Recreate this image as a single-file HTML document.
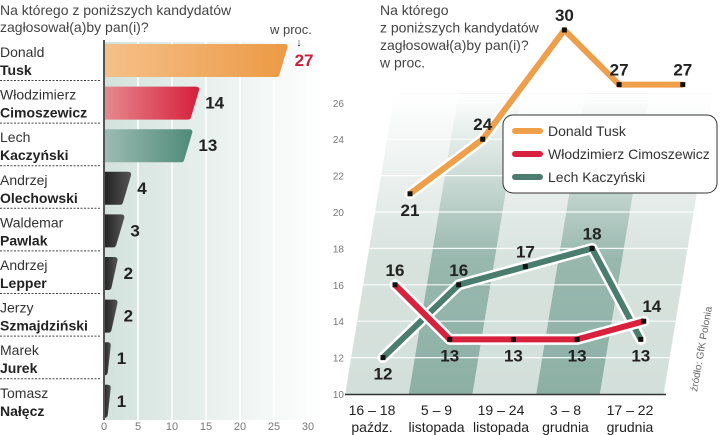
<!DOCTYPE html>
<html><head><meta charset="utf-8"><style>
body{margin:0;background:#fff;}
svg{display:block;font-family:"Liberation Sans",sans-serif;}
</style></head><body>
<svg id="c" width="720" height="435" viewBox="0 0 720 435">
<defs>
<linearGradient id="bgL" x1="0" x2="1"><stop offset="0" stop-color="#d3e2dd"/><stop offset="1" stop-color="#fff"/></linearGradient>
<linearGradient id="gO" x1="0" x2="1"><stop offset="0" stop-color="#f5c089"/><stop offset="1" stop-color="#ec9a45"/></linearGradient>
<linearGradient id="gR" x1="0" x2="1"><stop offset="0" stop-color="#e58a8f"/><stop offset="1" stop-color="#d61f3b"/></linearGradient>
<linearGradient id="gG" x1="0" x2="1"><stop offset="0" stop-color="#9dbcb4"/><stop offset="1" stop-color="#4f8a78"/></linearGradient>
<linearGradient id="gK" x1="0" x2="1"><stop offset="0" stop-color="#222"/><stop offset="1" stop-color="#555"/></linearGradient>
<linearGradient id="fadeV" x1="0" y1="0" x2="0" y2="1"><stop offset="0" stop-color="#fff" stop-opacity="1"/><stop offset="0.55" stop-color="#fff" stop-opacity="0.1"/><stop offset="1" stop-color="#fff" stop-opacity="0"/></linearGradient>
</defs>
<g id="left"></g>
<g id="right"></g>
</svg>
<script>
const NS='http://www.w3.org/2000/svg';
function el(t,a,p){const e=document.createElementNS(NS,t);for(const k in a)e.setAttribute(k,a[k]);p.appendChild(e);return e;}
function tx(s,a,p){const e=el('text',a,p);e.textContent=s;return e;}

// ---- bar chart data
const firstNames=['Donald','Włodzimierz','Lech','Andrzej','Waldemar','Andrzej','Jerzy','Marek','Tomasz'];
const lastNames=['Tusk','Cimoszewicz','Kaczyński','Olechowski','Pawlak','Lepper','Szmajdziński','Jurek','Nałęcz'];
const barValues=[27,14,13,4,3,2,2,1,1];
const barTicks=[0,5,10,15,20,25,30];

// ---- line chart data
const periods1=['16 – 18','5 – 9','19 – 24','3 – 8','17 – 22'];
const periods2=['paźdz.','listopada','listopada','grudnia','grudnia'];
const tusk=[21,24,30,27,27];
const cimo=[16,13,13,13,14];
const kacz=[12,16,17,18,13];
const yTicks=[10,12,14,16,18,20,22,24,26];

const L=document.getElementById('left');
const bx=v=>104+v*6.8;
const rowY=i=>42+i*42.6;
tx('Na którego z poniższych kandydatów',{x:0,y:15,'font-size':14,fill:'#444'},L);
tx('zagłosował(a)by pan(i)?',{x:0,y:32,'font-size':14,fill:'#444'},L);
el('rect',{x:104,y:42,width:218,height:378,fill:'url(#bgL)'},L);
barTicks.forEach(t=>{
  if(t>0){const g=el('line',{x1:bx(t),x2:bx(t),y1:42,y2:420,stroke:'#fff','stroke-width':1.5},L);
  }
  const lb=tx(String(t),{x:bx(t),y:430,'font-size':11,fill:'#777','text-anchor':'middle'},L);
  
});
const fills=['url(#gO)','url(#gR)','url(#gG)'];
barValues.forEach((v,i)=>{
  const y0=rowY(i)+2,y1=rowY(i)+35,x0=104,xe=bx(v),xb=xe-Math.min(8,v*3);
  const p=el('path',{d:`M${x0} ${y0} L${xe-3} ${y0} Q${xe} ${y0} ${xe} ${y0+3} L${xb} ${y1-3} Q${xb-0.5} ${y1} ${xb-3} ${y1} L${x0} ${y1} Z`,fill:fills[i]||'url(#gK)'},L);
  
  
  const vl=tx(String(v),{x:xe+(i==0?7:6),y:rowY(i)+24,'font-size':17,'font-weight':'bold',fill:i==0?'#c8203e':'#222'},L);
  
  const n1=tx(firstNames[i],{x:0,y:rowY(i)+15,'font-size':14,fill:'#333'},L);
  
  const n2=tx(lastNames[i],{x:0,y:rowY(i)+33,'font-size':14,'font-weight':'bold',fill:'#222'},L);
  
  if(i<8){const s=el('line',{x1:0,x2:100,y1:rowY(i)+38.5,y2:rowY(i)+38.5,stroke:'#444','stroke-dasharray':'2 1.5','stroke-width':1},L);
  }
});
el('line',{x1:104,x2:104,y1:40,y2:420,stroke:'#555','stroke-width':2},L);
tx('w proc.',{x:270,y:34,'font-size':13,fill:'#444'},L);
tx('↓',{x:299,y:46,'font-size':11,'font-weight':'bold',fill:'#222','text-anchor':'middle'},L);

// ---- right chart
const R=document.getElementById('right');
const SK=3/18.2;
const Y=v=>394-18.2*(v-10);
const X=(c,v)=>377+63.7*c+3*(v-10);
for(let c=0;c<5;c++){
  const xl=377+63.7*c-31.85, xr=xl+63.7, top=Y(26.5), h=394-top, sh=h*SK;
  const pg=el('polygon',{points:`${xl} 394 ${xr} 394 ${xr+sh} ${top} ${xl+sh} ${top}`,fill:c%2? '#8db0a5':'#d3dfda'},R);
  
}
{const top=Y(26.5),sh=(394-top)*SK;
el('polygon',{points:`345 394 665 394 ${665+sh} ${top} ${345+sh} ${top}`,fill:'url(#fadeV)'},R);}
yTicks.forEach(t=>{
  if(t>10){const y=Y(t),sh=(394-y)*SK;
  const g=el('line',{x1:345+sh,x2:665+sh,y1:y,y2:y,stroke:'#fff','stroke-width':1.2,opacity:0.9},R);
  }
  const lb=tx(String(t),{x:344,y:Y(t)+4,'font-size':10,fill:'#777','text-anchor':'end'},R);
  
});
el('line',{x1:345,x2:666,y1:394.5,y2:394.5,stroke:'#333','stroke-width':1.5},R);
periods1.forEach((p,i)=>{
  const cx=372+64.5*i;
  const a=tx(p,{x:cx,y:415,'font-size':14,fill:'#222','text-anchor':'middle'},R);
  
  const b=tx(periods2[i],{x:cx,y:432,'font-size':14,fill:'#222','text-anchor':'middle'},R);
  
});
['Na którego','z poniższych kandydatów','zagłosował(a)by pan(i)?','w proc.'].forEach((s,i)=>{
  tx(s,{x:380,y:15+i*17.5,'font-size':14,fill:'#444'},R);
});
const src=tx('źródło: GfK Polonia',{x:0,y:0,'font-size':10,fill:'#666',transform:'translate(697,392) rotate(-80)'},R);


const series=[
 {n:'kaczynski',d:kacz,c:'#4a7d6d',pos:['b','a','a','a','b']},
 {n:'cimoszewicz',d:cimo,c:'#d8213c',pos:['a','b','b','b','a']},
 {n:'tusk',d:tusk,c:'#ef9e4a',pos:['b','a','a','a','a']}
];
series.forEach(s=>{
  const pts=s.d.map((v,i)=>X(i,v)+','+Y(v)).join(' ');
  el('polyline',{points:pts,fill:'none',stroke:'#fff','stroke-width':11,'stroke-linejoin':'round','stroke-linecap':'round'},R);
  const ln=el('polyline',{points:pts,fill:'none',stroke:s.c,'stroke-width':6,'stroke-linejoin':'round'},R);
  
  s.d.forEach((v,i)=>{
    const x=X(i,v),y=Y(v);
    const m=el('rect',{x:x-2.5,y:y-2.5,width:5,height:5,fill:'#111'},R);
    
    const dx=(s.n=='cimoszewicz'&&i==4)?8:0;
    const t=tx(String(v),{x:x+dx,y:s.pos[i]=='a'?y-9:y+22,'font-size':17,'font-weight':'bold',fill:'#222','text-anchor':'middle'},R);
    
  });
});
const lg=el('g',{},R);
el('rect',{x:503,y:115,width:214,height:78,rx:10,fill:'#fff',stroke:'#333','stroke-width':1},lg);
[['Donald Tusk','#ef9e4a'],['Włodzimierz Cimoszewicz','#d8213c'],['Lech Kaczyński','#4a7d6d']].forEach((e,i)=>{
  const y=131+i*23;
  el('line',{x1:515,x2:540,y1:y,y2:y,stroke:e[1],'stroke-width':6,'stroke-linecap':'round'},lg);
  const t=tx(e[0],{x:548,y:y+5,'font-size':14,fill:'#333'},lg);
  
});
</script>
</body></html>
